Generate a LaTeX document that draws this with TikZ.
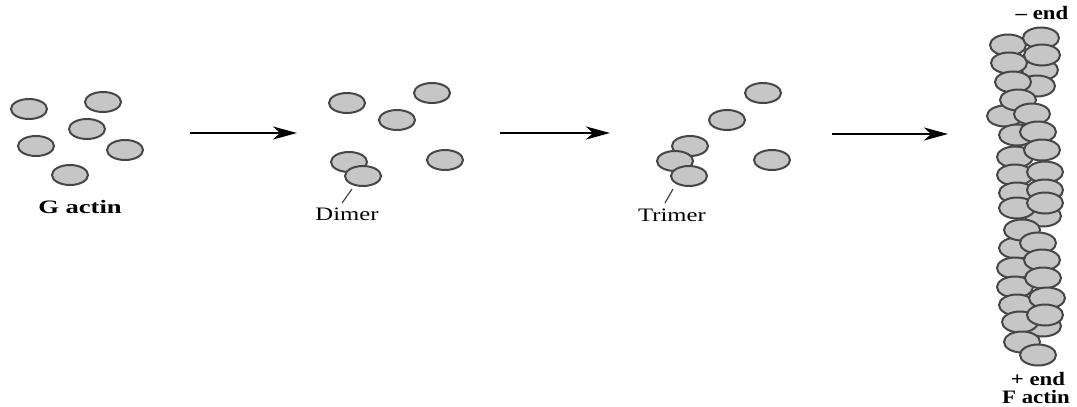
\documentclass[tikz,border=0pt]{standalone}
\usepackage{fontspec}
\setmainfont{Liberation Serif}
\usetikzlibrary{shapes.geometric,arrows.meta}

\definecolor{actinfill}{RGB}{198,198,198}
\definecolor{actinring}{RGB}{70,70,70}

% labels are set a little wide
\newcommand{\widelbl}[2][1.3]{\scalebox{#1}[1]{#2}}

\begin{document}
\begin{tikzpicture}[x=1pt,y=-1pt,
  mono/.style={ellipse,draw=actinring,fill=actinfill,line width=2pt,
               minimum width=36pt,minimum height=20pt,inner sep=0pt},
  fil/.style={mono,minimum width=36pt,minimum height=21pt},
  lbl/.style={font=\fontsize{19}{21}\selectfont,inner sep=0pt},
  blbl/.style={lbl,font=\fontsize{19}{21}\selectfont\bfseries},
  react/.style={line width=2.6pt,-{Stealth[length=24pt,width=13pt,inset=7pt]}}]

  \useasboundingbox (0,0) rectangle (1077,407);

% G actin monomers
  \node[mono] (g1) at (29,109) {};
  \node[mono] (g2) at (103,102) {};
  \node[mono] (g3) at (87,129) {};
  \node[mono] (g4) at (36,146) {};
  \node[mono] (g5) at (125,150) {};
  \node[mono] (g6) at (70,175) {};
  \node[blbl] (glab) at (80,207) {\widelbl[1.4]{G actin}};

% dimer
  \node[mono] (d1) at (347,103) {};
  \node[mono] (d2) at (432,93) {};
  \node[mono] (d3) at (397,120) {};
  \node[mono] (d4) at (349,162) {};
  \node[mono] (d5) at (363,176) {};
  \node[mono] (d6) at (445,160) {};
  \node[lbl] (dlab) at (347,214) {\widelbl{Dimer}};
  \coordinate (dtop) at (352,189);
  \coordinate (dbot) at (342,203);
  \draw[actinring,line width=1.2pt] (dtop) -- (dbot);

% trimer
  \node[mono] (t1) at (763,93) {};
  \node[mono] (t2) at (727,120) {};
  \node[mono] (t3) at (690,146) {};
  \node[mono] (t4) at (675,161) {};
  \node[mono] (t5) at (689,176) {};
  \node[mono] (t6) at (772,160) {};
  \node[lbl] (tlab) at (672,215) {\widelbl{Trimer}};
  \coordinate (ttop) at (673,189);
  \coordinate (tbot) at (665,203);
  \draw[actinring,line width=1.2pt] (ttop) -- (tbot);

% reaction arrows
  \coordinate (a1s) at (190,133);
  \coordinate (a1e) at (297,133);
  \coordinate (a2s) at (500,133);
  \coordinate (a2e) at (610,133);
  \coordinate (a3s) at (832,134);
  \coordinate (a3e) at (948,134);
  \draw[react] (a1s) -- (a1e);
  \draw[react] (a2s) -- (a2e);
  \draw[react] (a3s) -- (a3e);

% F actin filament, back strand first
  \foreach \x/\y [count=\i] in {1040/70,1037/86,1043/216,1043/326,1005/116,1017/248}
    \node[fil] (fb\i) at (\x,\y) {};
  \foreach \x/\y [count=\i] in {1008/45,1009/63,1013/82,1018/100,1017/135,1015/157,
                                1015/175,1017/193,1017/208,1022/230,1015/268,1015/287,
                                1017/305,1020/322,1022/342}
    \node[fil] (fl\i) at (\x,\y) {};
  \foreach \x/\y [count=\i] in {1041/38,1042/55,1032/114,1038/132,1042/150,1045/172,
                                1045/190,1045/203,1038/243,1042/260,1043/278,1047/298,
                                1045/315,1038/355}
    \node[fil] (fr\i) at (\x,\y) {};

  \node[blbl] (mend) at (1042,13) {\widelbl[1.2]{-- end}};
  \node[blbl] (pend) at (1038,379) {\widelbl[1.2]{+ end}};
  \node[blbl] (flab) at (1036,397) {\widelbl[1.2]{F actin}};

\end{tikzpicture}
\end{document}
